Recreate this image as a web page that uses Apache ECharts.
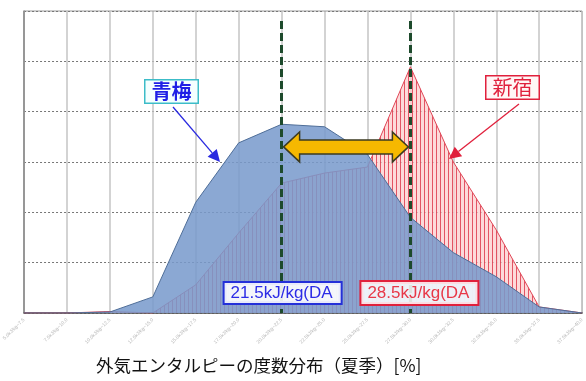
<!DOCTYPE html>
<html><head><meta charset="utf-8">
<script src="https://cdn.jsdelivr.net/npm/echarts@6/dist/echarts.min.js"></script>
<style>html,body{margin:0;padding:0;background:#fff}#c{width:586px;height:381px}</style>
</head><body><div id="c"></div>
<script>
const categories = ["5.0kJ/kg~7.5","7.5kJ/kg~10.0","10.0kJ/kg~12.5","12.5kJ/kg~15.0","15.0kJ/kg~17.5","17.5kJ/kg~20.0","20.0kJ/kg~22.5","22.5kJ/kg~25.0","25.0kJ/kg~27.5","27.5kJ/kg~30.0","30.0kJ/kg~32.5","32.5kJ/kg~35.0","35.0kJ/kg~37.5","37.5kJ/kg~40.0"];
const aome = [0, 0, 0.02, 0.32, 2.2, 3.38, 3.75, 3.7, 3.15, 1.9, 1.2, 0.72, 0.12, 0];
const shinjuku = [0, 0, 0.03, 0, 0.56, 1.59, 2.58, 2.78, 2.9, 4.89, 3.0, 1.65, 0.12, 0];
const markerIdx = [6, 9];
const markerLabels = ["21.5kJ/kg(DA", "28.5kJ/kg(DA"];
const seriesNames = ["青梅", "新宿"];
const xTitle = "外気エンタルピーの度数分布（夏季）[%]";

const chart = echarts.init(document.getElementById('c'), null, {renderer:'canvas'});

// hatch pattern for 新宿
const pc = document.createElement('canvas');
pc.width = 4; pc.height = 4;
const pctx = pc.getContext('2d');
pctx.fillStyle = 'rgba(252,205,205,0.75)';
pctx.fillRect(0,0,4,4);
pctx.fillStyle = 'rgba(220,50,70,0.8)';
pctx.fillRect(0,0,1,4);

chart.setOption({
  animation:false,
  grid:{left:14,right:2,top:11,bottom:68,show:true,borderColor:'#9a9a9a',borderWidth:1},
  xAxis:{type:'category',data:categories,boundaryGap:false,
    axisLine:{lineStyle:{color:'#555',width:1.5}},axisTick:{show:false},
    axisLabel:{interval:0,rotate:45,fontSize:5,color:'#b8b8b8',margin:6},
    splitLine:{show:true,lineStyle:{color:'#c4c4c4',width:1.5}}},
  yAxis:{type:'value',min:0,max:6,interval:1,axisLabel:{show:false},
    axisLine:{show:true,lineStyle:{color:'#888',width:1.5}},axisTick:{show:false},
    splitLine:{lineStyle:{color:'#777',type:[2,2],width:1}}},
  series:[
    {name:seriesNames[1],type:'line',data:shinjuku,symbol:'none',z:2,
     lineStyle:{color:'#e04858',width:1},
     areaStyle:{color:{image:pc,repeat:'repeat'},opacity:1}},
    {name:seriesNames[0],type:'line',data:aome,symbol:'none',z:3,
     lineStyle:{color:'#4f6e98',width:1},
     areaStyle:{color:'rgba(120,154,204,0.86)',opacity:1},
     markLine:{symbol:'none',silent:true,label:{show:false},
       lineStyle:{color:'#1d4a2c',width:3,type:[8,4]},
       data: markerIdx.map(i=>[{coord:[categories[i],5.8]},{coord:[categories[i],0]}])}}
  ]
});

// annotations
const p1 = chart.convertToPixel({gridIndex:0},[markerIdx[0],3.3]);
const p2 = chart.convertToPixel({gridIndex:0},[markerIdx[1],3.3]);
const y = p1[1], xa = p1[0]+2, xb = p2[0]-2, hl = 16, hh = 15, sh = 7;
const dbl = [[xa,y],[xa+hl,y-hh],[xa+hl,y-sh],[xb-hl,y-sh],[xb-hl,y-hh],[xb,y],[xb-hl,y+hh],[xb-hl,y+sh],[xa+hl,y+sh],[xa+hl,y+hh]];

function arrow(x1,y1,x2,y2,color){
  const a = Math.atan2(y2-y1,x2-x1), L=12, W=6;
  const bx = x2-L*Math.cos(a), by = y2-L*Math.sin(a);
  return [
    {type:'line',z:20,shape:{x1:x1,y1:y1,x2:bx,y2:by},style:{stroke:color,lineWidth:1.3}},
    {type:'polygon',z:20,shape:{points:[[x2,y2],[bx+W*Math.sin(a),by-W*Math.cos(a)],[bx-W*Math.sin(a),by+W*Math.cos(a)]]},style:{fill:color}}
  ];
}

const m1 = chart.convertToPixel({gridIndex:0},[markerIdx[0],0]);
const m2 = chart.convertToPixel({gridIndex:0},[markerIdx[1],0]);

chart.setOption({graphic:[
  {type:'polygon',z:15,shape:{points:dbl},style:{fill:'#f6b800',stroke:'#3b3a20',lineWidth:1.5}},
  ...arrow(173,107,220,162,'#2a2ae0'),
  ...arrow(519,104,449,159,'#e0203c'),
  {type:'text',z:21,left:144,top:79,style:{text:seriesNames[0],font:'bold 20px "Noto Sans CJK JP"',fill:'#1f1fe6',
    backgroundColor:'#f4ffff',borderColor:'#3cbcc8',borderWidth:1.5,padding:[1,6,1,6]}},
  {type:'text',z:21,left:485,top:75,style:{text:seriesNames[1],font:'20px "Noto Sans CJK JP"',fill:'#e0203c',
    backgroundColor:'#fff6f6',borderColor:'#e0203c',borderWidth:1.5,padding:[1,6,1,6]}},
  {type:'text',z:21,left:m1[0]-59,top:281,style:{text:markerLabels[0],font:'17px "Liberation Sans"',fill:'#2c2ce6',
    backgroundColor:'rgba(255,255,255,0.9)',borderColor:'#2430d8',borderWidth:2,padding:[2,8,1,6]}},
  {type:'text',z:21,left:m2[0]-51,top:280,style:{text:markerLabels[1],font:'17px "Liberation Sans"',fill:'#e83848',
    backgroundColor:'rgba(255,255,255,0.85)',borderColor:'#e0203c',borderWidth:2,padding:[3,8,2,6]}},
  {type:'text',z:21,left:96,top:357,style:{text:xTitle,font:'17.5px "Noto Sans CJK JP"',fill:'#111'}}
]});
</script></body></html>
